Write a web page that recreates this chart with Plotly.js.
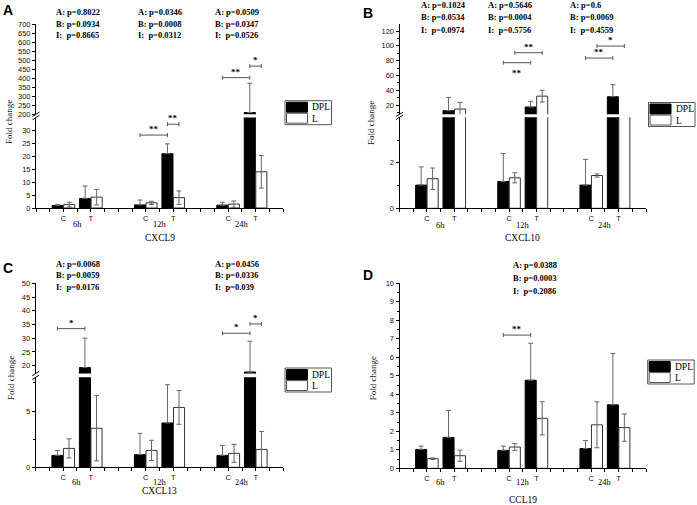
<!DOCTYPE html>
<html><head><meta charset="utf-8">
<script src="https://cdn.plot.ly/plotly-3.0.1.min.js"></script>
<style>html,body{margin:0;padding:0;background:#fff}#chart{width:697px;height:505px}</style>
</head><body><div id="chart"></div>
<script>
// ---------------- DATA ----------------
const timePoints = ['6h', '12h', '24h'];
const treatments = ['C', 'T'];
const barX = [1, 2, 4, 5, 7, 8];          // 6h C, 6h T, 12h C, 12h T, 24h C, 24h T
const groupX = [1.5, 4.5, 7.5];
const seriesNames = ['DPL', 'L'];

// CXCL9
const cxcl9_DPL     = [1.0, 3.7, 1.2, 21.0, 1.1, 210];
const cxcl9_DPL_err = [0.4, 4.8, 1.9, 3.8, 1.1, 162];
const cxcl9_L       = [1.3, 4.2, 2.0, 4.0, 1.5, 14.0];
const cxcl9_L_err   = [0.9, 3.0, 0.6, 2.6, 1.2, 6.3];
const cxcl9_pA = ['0.8022', '0.0346', '0.0509'];
const cxcl9_pB = ['0.0934', '0.0008', '0.0347'];
const cxcl9_pI = ['0.8665', '0.0312', '0.0526'];
const cxcl9_sig = [
  {from: [2, 'DPL'], to: [3, 'DPL'], y: 28.2, seg: 0, mark: '**'},
  {from: [3, 'DPL'], to: [3, 'L'],   y: 32.4, seg: 0, mark: '**'},
  {from: [4, 'DPL'], to: [5, 'DPL'], y: 403,  seg: 1, mark: '**'},
  {from: [5, 'DPL'], to: [5, 'L'],   y: 467,  seg: 1, mark: '*'}
];

// CXCL10
const cxcl10_DPL     = [1.02, 12.3, 1.18, 17.3, 1.02, 31.2];
const cxcl10_DPL_err = [0.8, 18.0, 1.23, 7.7, 1.13, 16.3];
const cxcl10_L       = [1.3, 14.6, 1.34, 32.0, 1.44, 5.5];
const cxcl10_L_err   = [0.47, 9.0, 0.22, 8.0, 0.07, 1.0];
const cxcl10_pA = ['0.1024', '0.5646', '0.6'];
const cxcl10_pB = ['0.0534', '0.0004', '0.0069'];
const cxcl10_pI = ['0.0974', '0.5756', '0.4559'];
const cxcl10_sig = [
  {from: [2, 'DPL'], to: [3, 'DPL'], y: 77.2, seg: 1, mark: '**', below: true},
  {from: [2, 'L'],   to: [3, 'L'],   y: 90.7, seg: 1, mark: '**'},
  {from: [4, 'DPL'], to: [5, 'DPL'], y: 83.5, seg: 1, mark: '**'},
  {from: [4, 'L'],   to: [5, 'L'],   y: 99.7, seg: 1, mark: '*'}
];

// CXCL13
const cxcl13_DPL     = [1.06, 19.3, 1.12, 3.94, 1.06, 17.7];
const cxcl13_DPL_err = [0.44, 10.7, 1.9, 3.4, 0.88, 11.2];
const cxcl13_L       = [1.68, 3.47, 1.5, 5.32, 1.24, 1.59];
const cxcl13_L_err   = [0.85, 2.9, 0.9, 1.5, 0.8, 1.6];
const cxcl13_pA = ['0.0068', null, '0.0456'];
const cxcl13_pB = ['0.0059', null, '0.0336'];
const cxcl13_pI = ['0.0176', null, '0.039'];
const cxcl13_sig = [
  {from: [0, 'DPL'], to: [1, 'DPL'], y: 33.5, seg: 1, mark: '*'},
  {from: [4, 'DPL'], to: [5, 'DPL'], y: 31.8, seg: 1, mark: '*'},
  {from: [5, 'DPL'], to: [5, 'L'],   y: 35.2, seg: 1, mark: '*'}
];

// CCL19
const ccl19_DPL     = [1.02, 1.67, 0.97, 4.76, 1.07, 3.43];
const ccl19_DPL_err = [0.18, 1.46, 0.23, 2.0, 0.43, 2.78];
const ccl19_L       = [0.52, 0.68, 1.15, 2.7, 2.35, 2.2];
const ccl19_L_err   = [0.04, 0.3, 0.18, 0.9, 1.24, 0.74];
const ccl19_pA = [null, '0.0388', null];
const ccl19_pB = [null, '0.0003', null];
const ccl19_pI = [null, '0.2086', null];
const ccl19_sig = [
  {from: [2, 'DPL'], to: [3, 'DPL'], y: 7.2, seg: 0, mark: '**'}
];

// ---------------- LAYOUT / STYLE ----------------
const W = 697, H = 505;
const SERIF = 'Liberation Serif, Times New Roman, serif';
const SANS = 'Liberation Sans, Arial, sans-serif';
const px = x => x / W, py = y => 1 - y / H;
const ERRC = '#666';

const panels = [
  {letter: 'A', gene: 'CXCL9', dpl: cxcl9_DPL, dplErr: cxcl9_DPL_err, l: cxcl9_L, lErr: cxcl9_L_err,
   pA: cxcl9_pA, pB: cxcl9_pB, pI: cxcl9_pI, sig: cxcl9_sig,
   xL: 36, xR: 283, axisY: 208,
   segs: [
     {range: [0, 35], bot: 208, top: 117.5, tickvals: [0, 5, 10, 15, 20, 25, 30], minor: []},
     {range: [200, 700], bot: 114.3, top: 24, tickvals: [200, 250, 300, 350, 400, 450, 500, 550, 600, 650, 700], minor: []}
   ],
   pX: [0.67, 3.64, 6.45], pY: [12.3, 24, 35], letterPos: [7.5, 9.5], ytitle: [8.5, 122.5],
   grpOff: 16, geneY: 238.3, legend: [285, 100.7]},
  {letter: 'B', gene: 'CXCL10', dpl: cxcl10_DPL, dplErr: cxcl10_DPL_err, l: cxcl10_L, lErr: cxcl10_L_err,
   pA: cxcl10_pA, pB: cxcl10_pB, pI: cxcl10_pI, sig: cxcl10_sig,
   xL: 399.5, xR: 646, axisY: 208.3,
   segs: [
     {range: [0, 4], bot: 208.3, top: 117.3, tickvals: [0, 2], minor: [1, 3]},
     {range: [7.5, 129.5], bot: 114.3, top: 24, tickvals: [20, 40, 60, 80, 100, 120], minor: [10, 30, 50, 70, 90, 110]}
   ],
   pX: [0.72, 3.16, 6.16], pY: [5.3, 17.3, 30], letterPos: [367.5, 12.5], ytitle: [371.7, 123.3],
   grpOff: 16.7, geneY: 238.3, legend: [648.5, 102.5]},
  {letter: 'C', gene: 'CXCL13', dpl: cxcl13_DPL, dplErr: cxcl13_DPL_err, l: cxcl13_L, lErr: cxcl13_L_err,
   pA: cxcl13_pA, pB: cxcl13_pB, pI: cxcl13_pI, sig: cxcl13_sig,
   xL: 35.7, xR: 283.3, axisY: 467.3,
   segs: [
     {range: [0, 8], bot: 467.3, top: 377.3, tickvals: [0, 5], minor: [2.5, 7.5]},
     {range: [17.16, 50.1], bot: 373.5, top: 283, tickvals: [20, 25, 30, 35, 40, 45, 50], minor: []}
   ],
   pX: [0.68, null, 6.46], pY: [264, 275.3, 287.3], letterPos: [7.5, 268], ytitle: [11.7, 378.3],
   grpOff: 15, geneY: 491, legend: [285, 368]},
  {letter: 'D', gene: 'CCL19', dpl: ccl19_DPL, dplErr: ccl19_DPL_err, l: ccl19_L, lErr: ccl19_L_err,
   pA: ccl19_pA, pB: ccl19_pB, pI: ccl19_pI, sig: ccl19_sig,
   xL: 399.5, xR: 646, axisY: 468.3,
   segs: [
     {range: [0, 10], bot: 468.3, top: 283.3, tickvals: [0, 1, 2, 3, 4, 5, 6, 7, 8, 9, 10],
      minor: [0.5, 1.5, 2.5, 3.5, 4.5, 5.5, 6.5, 7.5, 8.5, 9.5]}
   ],
   pX: [null, 4.07, null], pY: [265, 278.3, 291], letterPos: [368, 275], ytitle: [373, 378.3],
   grpOff: 13.8, geneY: 500, legend: [647.7, 360]}
];

const traces = [];
const layout = {
  width: W, height: H, margin: {l: 0, r: 0, t: 0, b: 0},
  paper_bgcolor: '#fff', plot_bgcolor: 'rgba(0,0,0,0)',
  showlegend: false, hovermode: false,
  barmode: 'group', bargap: 0.16, bargroupgap: 0.04,
  annotations: [], shapes: []
};

// x tick values every 0.5, labels only at C/T
const xTickVals = [], xTickText = [];
for (let v = 0; v <= 9.001; v += 0.5) {
  xTickVals.push(v);
  const i = barX.indexOf(v);
  xTickText.push(i >= 0 ? treatments[i % 2] : '');
}

let yCount = 0;
const offs = {DPL: -0.21, L: 0.21};

panels.forEach((p, pi) => {
  const xId = pi === 0 ? 'x' : 'x' + (pi + 1);
  const xKey = pi === 0 ? 'xaxis' : 'xaxis' + (pi + 1);
  const yIds = p.segs.map(() => { yCount++; return yCount === 1 ? 'y' : 'y' + yCount; });

  layout[xKey] = {
    domain: [px(p.xL), px(p.xR)], anchor: yIds[0], range: [0, 9],
    tickmode: 'array', tickvals: xTickVals, ticktext: xTickText,
    ticks: 'outside', ticklen: 3, tickwidth: 1, tickcolor: '#000',
    showline: true, linecolor: '#000', linewidth: 1,
    showgrid: false, zeroline: false, fixedrange: true,
    tickfont: {family: SANS, size: 7.5, color: '#111'}
  };

  p.segs.forEach((s, si) => {
    const yKey = 'yaxis' + (yIds[si] === 'y' ? '' : yIds[si].slice(1));
    layout[yKey] = {
      domain: [py(s.bot), py(s.top)], anchor: xId, range: s.range,
      tickmode: 'array', tickvals: s.tickvals,
      ticks: 'outside', ticklen: 3, tickwidth: 1, tickcolor: '#000',
      showline: true, linecolor: '#000', linewidth: 1,
      showgrid: false, zeroline: false, fixedrange: true,
      tickfont: {family: SANS, size: 7.5, color: '#111'},
      minor: s.minor.length ? {tickmode: 'array', tickvals: s.minor, ticks: 'outside', ticklen: 2, tickcolor: '#000', showgrid: false} : undefined
    };
    traces.push({
      type: 'bar', name: 'DPL', x: barX, y: p.dpl, xaxis: xId, yaxis: yIds[si],
      marker: {color: '#000', line: {color: '#000', width: 1}},
      error_y: {type: 'data', symmetric: false, array: p.dplErr, arrayminus: p.dpl.map(() => 0),
                color: ERRC, thickness: 1, width: 2.5},
      showlegend: false, hoverinfo: 'skip'
    });
    traces.push({
      type: 'bar', name: 'L', x: barX, y: p.l, xaxis: xId, yaxis: yIds[si],
      marker: {color: '#fff', line: {color: '#333', width: 1}},
      error_y: {type: 'data', array: p.lErr, color: ERRC, thickness: 1, width: 2.5},
      showlegend: false, hoverinfo: 'skip'
    });
  });

  // axis break marks
  if (p.segs.length > 1) {
    const lt = p.segs[0].top, ub = p.segs[1].bot;
    [[ub + 2.2, ub - 2.2], [lt + 2.2, lt - 2.2]].forEach(([y0, y1]) => {
      layout.shapes.push({type: 'line', xref: 'paper', yref: 'paper',
        x0: px(p.xL - 3.5), x1: px(p.xL + 3.5), y0: py(y0), y1: py(y1),
        line: {color: '#000', width: 1}});
    });
  }

  // panel letter
  layout.annotations.push({text: p.letter, xref: 'paper', yref: 'paper', x: px(p.letterPos[0]), y: py(p.letterPos[1]),
    xanchor: 'center', yanchor: 'middle', showarrow: false, font: {family: SANS, size: 14, weight: 'bold', color: '#000'}});
  // y title
  layout.annotations.push({text: 'Fold change', xref: 'paper', yref: 'paper', x: px(p.ytitle[0]), y: py(p.ytitle[1]),
    xanchor: 'center', yanchor: 'middle', textangle: -90, showarrow: false, font: {family: SERIF, size: 9, color: '#111'}});
  // group labels and gene title
  timePoints.forEach((t, gi) => {
    layout.annotations.push({text: t, xref: xId, yref: 'paper', x: groupX[gi], y: py(p.axisY + p.grpOff),
      xanchor: 'center', yanchor: 'middle', showarrow: false, font: {family: SERIF, size: 8.5, color: '#000'}});
  });
  layout.annotations.push({text: p.gene, xref: xId, yref: 'paper', x: 4.5, y: py(p.geneY),
    xanchor: 'center', yanchor: 'middle', showarrow: false, font: {family: SERIF, size: 9.5, color: '#000'}});

  // p-values
  timePoints.forEach((t, gi) => {
    if (p.pA[gi] === null) return;
    const lines = ['A: p=' + p.pA[gi], 'B: p=' + p.pB[gi], 'I:\u00a0 p=' + p.pI[gi]];
    lines.forEach((txt, li) => {
      layout.annotations.push({text: txt, xref: xId, yref: 'paper', x: p.pX[gi], y: py(p.pY[li]),
        xanchor: 'left', yanchor: 'middle', showarrow: false,
        font: {family: SERIF, size: 8.5, weight: 'bold', color: '#000'}});
    });
  });

  // significance brackets
  p.sig.forEach(b => {
    const yref = yIds[b.seg];
    const x0 = barX[b.from[0]] + offs[b.from[1]];
    const x1 = barX[b.to[0]] + offs[b.to[1]];
    layout.shapes.push({type: 'line', xref: xId, yref: yref, x0: x0, x1: x1, y0: b.y, y1: b.y,
      line: {color: '#555', width: 1}});
    [x0, x1].forEach(xx => {
      layout.shapes.push({type: 'line', xref: xId, yref: yref, ysizemode: 'pixel', yanchor: b.y,
        x0: xx, x1: xx, y0: -2, y1: 2, line: {color: '#555', width: 1}});
    });
    layout.annotations.push({text: b.mark, xref: xId, yref: yref, x: (x0 + x1) / 2, y: b.y,
      xanchor: 'center', yanchor: b.below ? 'top' : 'bottom', yshift: b.below ? -3 : -1, showarrow: false,
      font: {family: SERIF, size: 9, weight: 'bold', color: '#000'}});
  });

  // legend box
  const [lx, ly] = p.legend;
  layout.shapes.push({type: 'rect', xref: 'paper', yref: 'paper', x0: px(lx), x1: px(lx + 46.5), y0: py(ly), y1: py(ly + 24),
    line: {color: '#555', width: 1}, fillcolor: 'rgba(0,0,0,0)'});
  layout.shapes.push({type: 'rect', xref: 'paper', yref: 'paper', x0: px(lx + 1.5), x1: px(lx + 22.5), y0: py(ly + 1.5), y1: py(ly + 11.5),
    line: {color: '#000', width: 1}, fillcolor: '#000'});
  layout.shapes.push({type: 'rect', xref: 'paper', yref: 'paper', x0: px(lx + 1.5), x1: px(lx + 22.5), y0: py(ly + 12.6), y1: py(ly + 22.5),
    line: {color: '#555', width: 1}, fillcolor: '#fff'});
  seriesNames.forEach((nm, k) => {
    layout.annotations.push({text: nm, xref: 'paper', yref: 'paper', x: px(lx + 25), y: py(ly + 6.5 + k * 11.5),
      xanchor: 'left', yanchor: 'middle', showarrow: false, font: {family: SERIF, size: 9.5, color: '#000'}});
  });
});

Plotly.newPlot('chart', traces, layout, {staticPlot: true, displayModeBar: false});
</script>
</body></html>
